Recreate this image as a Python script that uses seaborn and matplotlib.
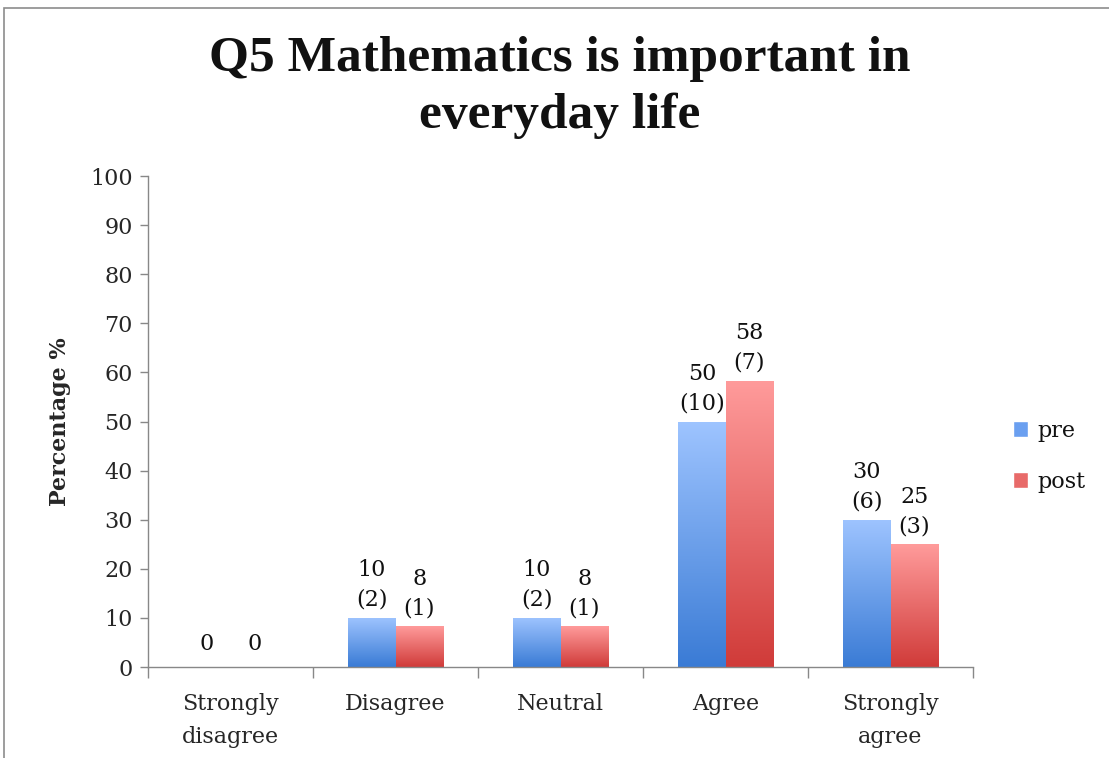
import numpy as np
import pandas as pd
import matplotlib
matplotlib.use('Agg')
import matplotlib.pyplot as plt
from matplotlib.colors import LinearSegmentedColormap
from matplotlib.patches import Patch, Rectangle
import seaborn as sns

# ─────────────────────────────────────────────
# DATA
# ─────────────────────────────────────────────
categories = ['Strongly\ndisagree', 'Disagree', 'Neutral', 'Agree', 'Strongly\nagree']
pre_pct    = [0, 10, 10, 50, 30]
post_pct   = [0, 8.33, 8.33, 58.33, 25]
pre_n      = [0, 2, 2, 10, 6]
post_n     = [0, 1, 1, 7, 3]
series     = ['pre', 'post']
yticks     = list(range(0, 101, 10))

df = pd.DataFrame({
    'category': categories * 2,
    'pct':      pre_pct + post_pct,
    'n':        pre_n + post_n,
    'group':    ['pre'] * len(categories) + ['post'] * len(categories),
})

# ─────────────────────────────────────────────
# STYLE
# ─────────────────────────────────────────────
sns.set_theme(style='white')
plt.rcParams['font.family'] = ['DejaVu Serif', 'Liberation Serif']
plt.rcParams['text.color'] = '#111111'

grad = {
    'pre':  ('#3a7bd5', '#9ec4ff'),   # bottom, top
    'post': ('#d03b39', '#ff9b9b'),
}
mid = {'pre': '#6a9ff0', 'post': '#e86a69'}
fs = 16

fig = plt.figure(figsize=(11.09, 7.58), dpi=100)
ax = fig.add_axes([0.1335, 0.12, 0.7439, 0.6478])

sns.barplot(data=df, x='category', y='pct', hue='group', hue_order=series,
            palette=mid, width=0.575, ax=ax, legend=False, saturation=1)

# gradient fill on each bar
for cont, name in zip(ax.containers, series):
    cmap = LinearSegmentedColormap.from_list(name, list(grad[name]))
    for bar in cont:
        h = bar.get_height()
        if h <= 0:
            bar.set_visible(False)
            continue
        x0, w = bar.get_x(), bar.get_width()
        bar.set_facecolor('none')
        bar.set_edgecolor('none')
        img = ax.imshow(np.linspace(0, 1, 256).reshape(-1, 1), cmap=cmap,
                        origin='lower', aspect='auto',
                        extent=[x0, x0 + w, 0, h], zorder=2)
        img.set_clip_path(bar)

ax.set_ylim(0, 100)
ax.set_xlim(-0.5, len(categories) - 0.5)

# value labels
for cont, name, pcts, ns in zip(ax.containers, series,
                                [pre_pct, post_pct], [pre_n, post_n]):
    for bar, p, n in zip(cont, pcts, ns):
        label = f'{p:.0f}' if n == 0 else f'{p:.0f}\n({n})'
        ax.annotate(label, (bar.get_x() + bar.get_width() / 2, bar.get_height()),
                    xytext=(0, 5 if n else 9), textcoords='offset points',
                    ha='center', va='bottom', fontsize=fs, linespacing=1.45)

# axes styling
ax.set_yticks(yticks)
ax.set_yticklabels([str(t) for t in yticks], fontsize=fs)
ax.set_xticks(range(len(categories)))
ax.set_xticklabels(categories, fontsize=fs, linespacing=1.65)
ax.set_xticks(np.arange(-0.5, len(categories), 1), minor=True)
ax.tick_params(axis='x', which='major', length=0, pad=19)
ax.tick_params(axis='x', which='minor', length=8, width=1, color='#888888', direction='out', bottom=True)
ax.tick_params(axis='y', length=6, width=1, color='#888888', direction='out', left=True, pad=5)
ax.set_xlabel('')
ax.set_ylabel('Percentage %', fontsize=16, fontweight='bold', labelpad=14)
for s in ['top', 'right']:
    ax.spines[s].set_visible(False)
for s in ['left', 'bottom']:
    ax.spines[s].set_color('#888888')
    ax.spines[s].set_linewidth(1)

fig.suptitle('Q5 Mathematics is important in\neveryday life', x=0.505, y=0.953,
             fontsize=37, fontweight='bold', linespacing=1.3,
             family=['Liberation Serif', 'DejaVu Serif'])

# legend
handles = [Patch(facecolor=mid[s], label=s) for s in series]
fig.legend(handles=handles, loc='center left', bbox_to_anchor=(0.895, 0.398),
           frameon=False, fontsize=16, handlelength=0.7, handleheight=0.7,
           handletextpad=0.4, labelspacing=1.3)

# chart area frame
fig.add_artist(Rectangle((4 / 1109, -0.1), 1.2, 0.1 + (758 - 8) / 758,
                         transform=fig.transFigure, fill=False,
                         edgecolor='#8c8c8c', linewidth=1.2))

fig.savefig('out.png', dpi=100)
